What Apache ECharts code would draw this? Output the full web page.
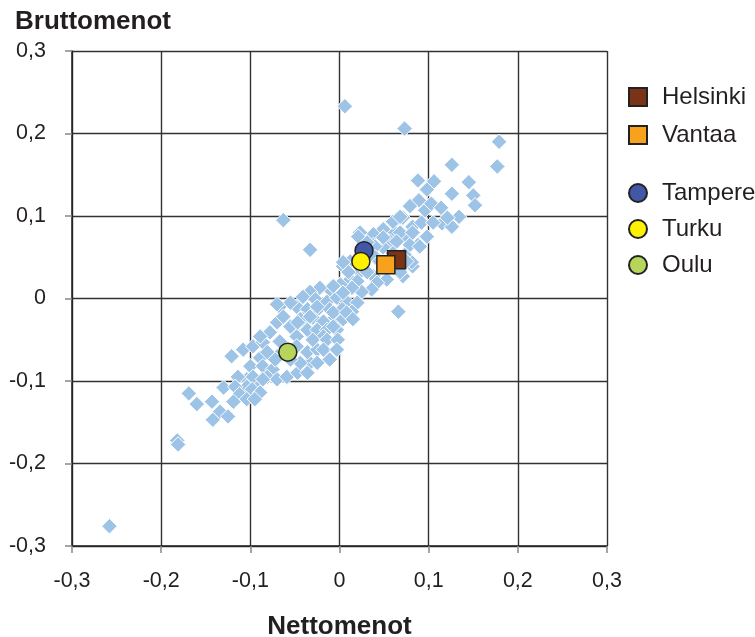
<!DOCTYPE html>
<html>
<head>
<meta charset="utf-8">
<script src="https://cdn.jsdelivr.net/npm/echarts@6/dist/echarts.min.js"></script>
<style>html,body{margin:0;padding:0;background:#fff}#c{width:755px;height:637px}</style>
</head>
<body>
<div id="c"></div>
<script>
// Municipality cloud: net expenditure change (x) vs gross expenditure change (y)
const netValues = [
-0.258,-0.182,-0.181,-0.169,-0.160,-0.143,-0.142,-0.134,-0.125,-0.130,-0.121,0.006,0.073,0.179,0.177,0.126,-0.063,-0.033,0.066,
0.088,0.106,0.098,0.145,0.126,0.150,0.152,0.089,0.079,0.096,0.103,0.114,0.115,0.126,0.134,0.121,0.064,0.071,0.082,0.092,0.062,0.073,0.088,0.079,
0.060,0.105,0.068,0.082,0.098,0.049,0.038,0.023,0.057,0.090,0.049,0.038,0.012,0.004,0.023,0.038,0.053,0.071,0.082,0.012,0.021,0.049,0.040,
0.010,0.020,0.031,0.042,0.036,0.025,0.014,0.001,-0.011,-0.022,-0.033,-0.041,-0.027,-0.014,-0.003,0.008,0.020,
-0.048,-0.036,-0.024,-0.011,0.003,0.014,-0.041,-0.030,-0.018,-0.005,0.004,-0.052,-0.036,-0.025,-0.014,-0.003,-0.048,-0.018,
-0.108,-0.097,-0.089,-0.100,-0.086,-0.075,-0.081,-0.104,-0.092,-0.070,-0.059,-0.047,-0.033,-0.044,-0.036,-0.025,-0.048,-0.078,-0.067,-0.086,
-0.070,-0.055,-0.044,-0.067,-0.055,-0.025,-0.033,-0.007,-0.007,-0.030,-0.014,-0.002,-0.018,-0.003,-0.025,-0.011,-0.036,-0.055,-0.070,-0.097,-0.104,
-0.081,-0.072,-0.114,-0.086,-0.117,-0.112,-0.098,-0.089,-0.104,-0.095,-0.119,-0.070,-0.063,-0.047,-0.089,
0.068,0.064,0.031,0.081,0.068,-0.007,0.004,0.008,0.015,0.004,0.040,0.073,0.060,0.045,0.075
];
const grossValues = [
-0.276,-0.172,-0.177,-0.115,-0.128,-0.125,-0.147,-0.137,-0.143,-0.108,-0.070,0.233,0.206,0.190,0.160,0.162,0.095,0.059,-0.016,
0.143,0.142,0.132,0.141,0.127,0.125,0.113,0.119,0.112,0.107,0.115,0.110,0.091,0.087,0.099,0.098,0.096,0.098,0.087,0.092,0.080,0.075,0.065,0.065,
0.093,0.092,0.080,0.080,0.075,0.084,0.078,0.080,0.069,0.063,0.062,0.065,0.045,0.039,0.032,0.027,0.023,0.027,0.039,0.023,0.075,0.074,0.063,
0.032,0.021,0.032,0.019,0.011,0.008,0.013,0.017,0.011,0.013,0.008,0.002,-0.001,-0.004,0.001,-0.004,-0.005,
-0.010,-0.013,-0.013,-0.013,-0.013,-0.016,-0.025,-0.023,-0.028,-0.023,-0.025,-0.038,-0.038,-0.038,-0.038,-0.038,-0.046,-0.046,
-0.062,-0.058,-0.072,-0.082,-0.082,-0.086,-0.095,-0.098,-0.102,-0.098,-0.095,-0.090,-0.078,-0.078,-0.065,-0.062,-0.058,-0.041,-0.052,-0.053,
-0.029,-0.034,-0.025,-0.010,-0.005,-0.010,-0.022,-0.017,-0.034,-0.050,-0.050,-0.050,-0.062,-0.062,-0.078,-0.074,-0.090,-0.074,-0.070,-0.095,-0.107,
-0.065,-0.074,-0.095,-0.098,-0.107,-0.116,-0.110,-0.114,-0.122,-0.122,-0.125,-0.007,-0.022,-0.029,-0.046,
0.099,0.069,0.068,0.044,0.032,0.015,0.007,-0.017,-0.025,0.044,0.050,0.053,0.055,0.045,0.045
];

const cityNames = ['Helsinki', 'Vantaa', 'Tampere', 'Turku', 'Oulu'];
const cityNet   = [0.064, 0.052, 0.0275, 0.024, -0.058];
const cityGross = [0.047, 0.041, 0.058, 0.045, -0.065];
const citySymbols = ['rect', 'rect', 'circle', 'circle', 'circle'];
const cityColors = ['#7a3315', '#f7a11d', '#4257a6', '#fff200', '#b6d55a'];

const axisTicks = [-0.3, -0.2, -0.1, 0, 0.1, 0.2, 0.3];

const FONT = '"Liberation Sans", Arial, sans-serif';
const fmt = v => (Math.abs(v) < 1e-9 ? '0' : v.toFixed(1).replace('.', ','));

const cloud = netValues.map((x, i) => [x, grossValues[i]]);

const citySeries = cityNames.map((n, i) => ({
  name: n,
  type: 'scatter',
  symbol: citySymbols[i],
  symbolSize: 18,
  z: 5 + i,
  itemStyle: { color: cityColors[i], borderColor: '#222', borderWidth: 1.5, opacity: 1 },
  data: [[cityNet[i], cityGross[i]]]
}));

const axisCommon = {
  type: 'value',
  min: axisTicks[0],
  max: axisTicks[axisTicks.length - 1],
  interval: 0.1,
  axisLine: { onZero: false, show: true, lineStyle: { color: '#222', width: 1.5 } },
  axisTick: { show: true, length: 7, lineStyle: { color: '#888', width: 1.5 } },
  splitLine: { show: true, lineStyle: { color: '#333', width: 1.4 } },
  axisLabel: { formatter: fmt, fontFamily: FONT, fontSize: 21.5, color: '#231f20' }
};

const legendText = { fontFamily: FONT, fontSize: 24, color: '#231f20', padding: [0, 0, 0, 10] };

const chart = echarts.init(document.getElementById('c'), null, { renderer: 'canvas' });
chart.setOption({
  animation: false,
  backgroundColor: '#fff',
  title: {
    text: 'Bruttomenot', left: 15, top: 9, padding: 0,
    textStyle: { fontFamily: FONT, fontSize: 26, fontWeight: 'bold', color: '#231f20' }
  },
  grid: { left: 72, top: 51, width: 535, height: 495, containLabel: false, outerBoundsMode: 'none' },
  xAxis: Object.assign({}, axisCommon, {
    name: 'Nettomenot', nameLocation: 'middle', nameGap: 68,
    nameTextStyle: { fontFamily: FONT, fontSize: 26, fontWeight: 'bold', color: '#231f20' },
    axisLabel: Object.assign({}, axisCommon.axisLabel, { margin: 24 })
  }),
  yAxis: Object.assign({}, axisCommon, {
    axisLabel: Object.assign({}, axisCommon.axisLabel, { margin: 26 })
  }),
  legend: [
    {
      data: ['Helsinki', 'Vantaa'], orient: 'vertical', left: 628, top: 85,
      itemWidth: 18, itemHeight: 18, itemGap: 14, padding: 0,
      textStyle: legendText
    },
    {
      data: ['Tampere', 'Turku', 'Oulu'], orient: 'vertical', left: 628, top: 181,
      itemWidth: 18, itemHeight: 18, itemGap: 12, padding: 0,
      textStyle: legendText
    }
  ],
  series: [
    {
      name: 'Kunnat',
      type: 'scatter',
      symbol: 'diamond',
      symbolSize: 15.5,
      z: 2,
      itemStyle: { color: '#9dc3e6', borderColor: '#ffffff', borderWidth: 1, opacity: 1 },
      data: cloud
    }
  ].concat(citySeries)
});
</script>
</body>
</html>
